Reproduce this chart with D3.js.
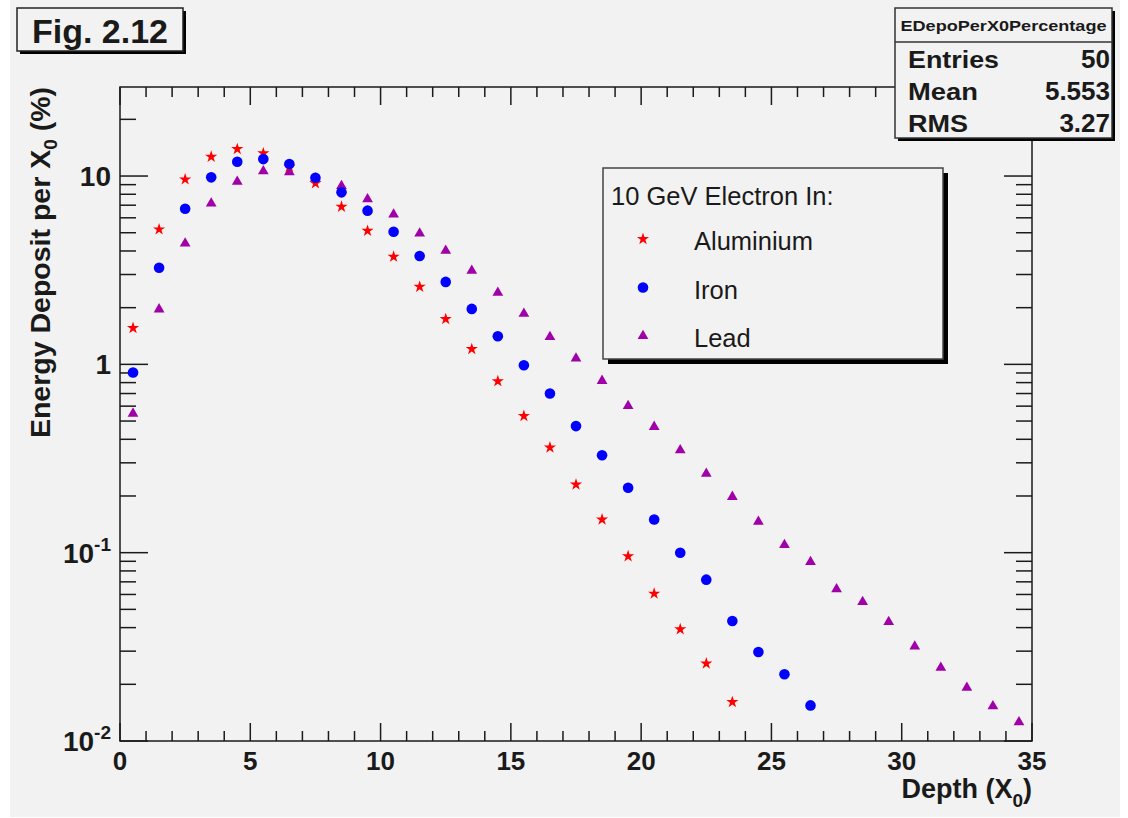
<!DOCTYPE html>
<html>
<head>
<meta charset="utf-8">
<script src="https://cdn.jsdelivr.net/npm/d3@7"></script>
<style>
  body { margin: 0; background: #fff; }
  svg { display: block; font-family: 'Liberation Sans', Arial, Helvetica, sans-serif; }
</style>
</head>
<body>
<svg id="chart" width="1128" height="818"></svg>
<script>
// depth bin centres (X0)
const depth = [0.5, 1.5, 2.5, 3.5, 4.5, 5.5, 6.5, 7.5, 8.5, 9.5, 10.5, 11.5, 12.5, 13.5, 14.5,
  15.5, 16.5, 17.5, 18.5, 19.5, 20.5, 21.5, 22.5, 23.5, 24.5, 25.5, 26.5, 27.5, 28.5, 29.5,
  30.5, 31.5, 32.5, 33.5, 34.5];

// energy deposit per X0 (%)
const aluminium = [1.56, 5.21, 9.6, 12.66, 13.9, 13.2, 11.2, 9.15, 6.87, 5.12, 3.73, 2.58, 1.74,
  1.205, 0.814, 0.532, 0.362, 0.23, 0.15, 0.0957, 0.0606, 0.0392, 0.0258, 0.0161];
const iron = [0.906, 3.26, 6.7, 9.84, 11.9, 12.3, 11.58, 9.8, 8.19, 6.55, 5.06, 3.76, 2.74, 1.97,
  1.41, 0.99, 0.7, 0.47, 0.329, 0.221, 0.15, 0.1, 0.0719, 0.0434, 0.0297, 0.0226, 0.01545];
const lead = [0.548, 1.96, 4.39, 7.16, 9.33, 10.6, 10.5, 9.7, 8.85, 7.54, 6.25, 4.96, 4.01, 3.14,
  2.4, 1.86, 1.4, 1.074, 0.818, 0.602, 0.466, 0.35, 0.263, 0.198, 0.146, 0.11, 0.0893, 0.064,
  0.0547, 0.0429, 0.0318, 0.0245, 0.0192, 0.0153, 0.0126];

const seriesNames = ['Aluminium', 'Iron', 'Lead'];
const seriesColors = ['#ff0000', '#0000ff', '#a000a8'];

const xTickValues = [0, 5, 10, 15, 20, 25, 30, 35];
const yTickValues = [0.01, 0.1, 1, 10];
const yTickBase = ['10', '10', '1', '10'];
const yTickExp = ['-2', '-1', '', ''];

const statsLabels = ['Entries', 'Mean', 'RMS'];
const statsValues = ['50', '5.553', '3.27'];

const frame = { left: 120, right: 1032, top: 87, bottom: 741 };
const ink = '#1a1a1a';

const svg = d3.select('#chart');

const x = d3.scaleLinear().domain([0, 35]).range([frame.left, frame.right]);
const y = d3.scaleLog().domain([0.01, 29.7]).range([frame.bottom, frame.top]);

// canvas background
svg.append('rect')
  .attr('x', 10).attr('y', 0).attr('width', 1110).attr('height', 817)
  .attr('fill', '#f2f2f2');

drawAxes(svg);
drawPoints(svg);
drawLegend(svg);
drawStats(svg);
drawTitles(svg);

function drawAxes(g) {
  const axes = g.append('g').attr('stroke', ink).attr('stroke-width', 1.5);

  // x ticks, every unit, major every 5 (bottom and top, pointing inward)
  x.ticks(35).forEach((t) => {
    const len = t % 5 === 0 ? 18 : 10;
    axes.append('line')
      .attr('x1', x(t)).attr('x2', x(t))
      .attr('y1', frame.bottom).attr('y2', frame.bottom - len);
    axes.append('line')
      .attr('x1', x(t)).attr('x2', x(t))
      .attr('y1', frame.top).attr('y2', frame.top + len);
  });

  // y ticks on the log scale (left and right)
  y.ticks().forEach((t) => {
    const major = yTickValues.some((v) => Math.abs(v - t) / v < 1e-6);
    const len = major ? 28 : 16;
    axes.append('line')
      .attr('x1', frame.left).attr('x2', frame.left + len)
      .attr('y1', y(t)).attr('y2', y(t));
    axes.append('line')
      .attr('x1', frame.right).attr('x2', frame.right - len)
      .attr('y1', y(t)).attr('y2', y(t));
  });

  // frame
  axes.append('rect')
    .attr('x', frame.left).attr('y', frame.top)
    .attr('width', frame.right - frame.left).attr('height', frame.bottom - frame.top)
    .attr('fill', 'none');

  // x tick labels
  g.append('g')
    .selectAll('text')
    .data(xTickValues)
    .join('text')
    .attr('x', (d) => x(d))
    .attr('y', frame.bottom + 29)
    .attr('text-anchor', 'middle')
    .attr('font-size', 26)
    .attr('font-weight', 'bold')
    .attr('fill', ink)
    .text((d) => d);

  // y tick labels with exponents
  const yl = g.append('g')
    .selectAll('text')
    .data(yTickValues)
    .join('text')
    .attr('x', 111)
    .attr('y', (d) => y(d) + 10)
    .attr('text-anchor', 'end')
    .attr('font-size', 28)
    .attr('font-weight', 'bold')
    .attr('fill', ink);
  yl.append('tspan').text((d, i) => yTickBase[i]);
  yl.append('tspan')
    .attr('dy', -12)
    .attr('font-size', 19)
    .text((d, i) => yTickExp[i]);
}

function symbolPath(type, size) {
  return d3.symbol().type(type).size(size)();
}

function drawMarker(sel, i) {
  if (i === 0) {
    sel.append('path').attr('d', symbolPath(d3.symbolStar, 46)).attr('fill', seriesColors[0]);
  } else if (i === 1) {
    sel.append('circle').attr('r', 5.3).attr('fill', seriesColors[1]);
  } else {
    sel.append('path').attr('d', symbolPath(d3.symbolTriangle, 50)).attr('fill', seriesColors[2]);
  }
}

function drawPoints(g) {
  const series = [aluminium, iron, lead];
  // lead first so the circles and stars sit on top like in the original
  [2, 0, 1].forEach((i) => {
    g.append('g')
      .attr('class', 'series')
      .selectAll('g')
      .data(series[i])
      .join('g')
      .attr('transform', (d, j) => `translate(${x(depth[j])},${y(d)})`)
      .each(function () {
        drawMarker(d3.select(this), i);
      });
  });
}

function drawLegend(g) {
  const box = { x: 603, y: 168, w: 340, h: 191 };
  const lg = g.append('g');
  lg.append('rect')
    .attr('x', box.x + 5).attr('y', box.y + 5)
    .attr('width', box.w).attr('height', box.h)
    .attr('fill', '#000');
  lg.append('rect')
    .attr('x', box.x).attr('y', box.y)
    .attr('width', box.w).attr('height', box.h)
    .attr('fill', '#f2f2f2')
    .attr('stroke', '#444').attr('stroke-width', 1.5);

  lg.append('text')
    .attr('x', 611).attr('y', 205)
    .attr('font-size', 25.5)
    .attr('fill', ink)
    .text('10 GeV Electron In:');

  const rowY = d3.scalePoint().domain(seriesNames).range([239, 336]);
  const rows = lg.selectAll('g.entry')
    .data(seriesNames)
    .join('g')
    .attr('class', 'entry')
    .attr('transform', (d) => `translate(0,${rowY(d)})`);
  rows.append('g')
    .attr('transform', 'translate(643,0)')
    .each(function (d, i) {
      drawMarker(d3.select(this), i);
    });
  rows.append('text')
    .attr('x', 694).attr('y', 11)
    .attr('font-size', 25.5)
    .attr('fill', ink)
    .text((d) => d);
}

function drawStats(g) {
  const box = { x: 895, y: 8, w: 217, h: 130 };
  const st = g.append('g');
  st.append('rect')
    .attr('x', box.x + 3).attr('y', box.y + 3)
    .attr('width', box.w).attr('height', box.h)
    .attr('fill', '#000');
  st.append('rect')
    .attr('x', box.x).attr('y', box.y)
    .attr('width', box.w).attr('height', box.h)
    .attr('fill', '#f2f2f2')
    .attr('stroke', '#333').attr('stroke-width', 1.5);
  st.append('line')
    .attr('x1', box.x).attr('x2', box.x + box.w)
    .attr('y1', 42).attr('y2', 42)
    .attr('stroke', '#333').attr('stroke-width', 1.5);

  st.append('text')
    .attr('x', box.x + box.w / 2).attr('y', 31)
    .attr('text-anchor', 'middle')
    .attr('font-size', 15)
    .attr('font-weight', 'bold')
    .attr('textLength', 206)
    .attr('lengthAdjust', 'spacingAndGlyphs')
    .attr('fill', ink)
    .text('EDepoPerX0Percentage');

  const rowBase = [68, 100, 132];
  const labelWidth = [91, 70, 60];
  st.selectAll('text.label')
    .data(statsLabels)
    .join('text')
    .attr('class', 'label')
    .attr('x', 908)
    .attr('y', (d, i) => rowBase[i])
    .attr('font-size', 24)
    .attr('font-weight', 'bold')
    .attr('textLength', (d, i) => labelWidth[i])
    .attr('lengthAdjust', 'spacingAndGlyphs')
    .attr('fill', ink)
    .text((d) => d);
  st.selectAll('text.value')
    .data(statsValues)
    .join('text')
    .attr('class', 'value')
    .attr('x', 1110)
    .attr('y', (d, i) => rowBase[i])
    .attr('text-anchor', 'end')
    .attr('font-size', 26)
    .attr('font-weight', 'bold')
    .attr('fill', ink)
    .text((d) => d);
}

function drawTitles(g) {
  // figure tag
  g.append('rect')
    .attr('x', 20).attr('y', 11).attr('width', 166).attr('height', 43)
    .attr('fill', '#000');
  g.append('rect')
    .attr('x', 17).attr('y', 8).attr('width', 166).attr('height', 43)
    .attr('fill', '#f2f2f2')
    .attr('stroke', '#222').attr('stroke-width', 1.5);
  g.append('text')
    .attr('x', 100).attr('y', 43)
    .attr('text-anchor', 'middle')
    .attr('font-size', 34)
    .attr('font-weight', 'bold')
    .attr('fill', ink)
    .text('Fig. 2.12');

  // y title
  const yt = g.append('text')
    .attr('transform', `translate(50,${frame.top}) rotate(-90)`)
    .attr('text-anchor', 'end')
    .attr('font-size', 28.5)
    .attr('font-weight', 'bold')
    .attr('fill', ink);
  yt.append('tspan').text('Energy Deposit per X');
  yt.append('tspan').attr('font-size', 19).attr('dy', 7).text('0');
  yt.append('tspan').attr('dy', -7).text(' (%)');

  // x title
  const xt = g.append('text')
    .attr('x', frame.right).attr('y', 798)
    .attr('text-anchor', 'end')
    .attr('font-size', 27)
    .attr('font-weight', 'bold')
    .attr('fill', ink);
  xt.append('tspan').text('Depth (X');
  xt.append('tspan').attr('font-size', 19).attr('dy', 9).text('0');
  xt.append('tspan').attr('dy', -9).text(')');
}
</script>
</body>
</html>
